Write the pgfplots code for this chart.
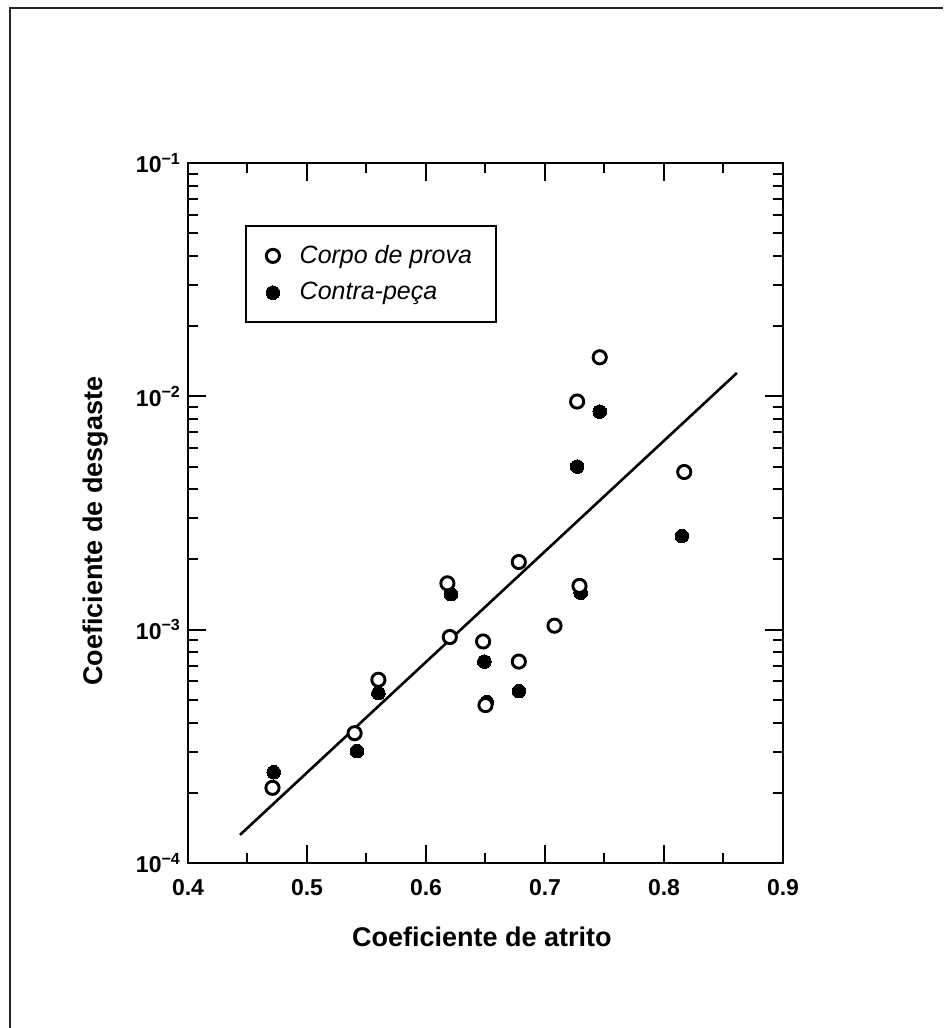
\documentclass[border=0pt]{standalone}
\usepackage{fontspec}
\setmainfont{Liberation Sans}
\usepackage{pgfplots}
\pgfplotsset{compat=1.18}

\begin{document}
\begin{tikzpicture}
\path[use as bounding box, fill=white] (0,0) rectangle (471.5pt,514pt);
% outer frame (top and left only)
\draw[line width=1pt, black!85] (5pt,0) -- (5pt,510pt) -- (471.5pt,510pt);
\begin{axis}[
  at={(94pt,82.5pt)}, anchor=south west,
  scale only axis,
  width=297.5pt, height=350pt,
  ymode=log,
  xmin=0.4, xmax=0.9,
  ymin=1e-4, ymax=1e-1,
  xtick={0.4,0.5,0.6,0.7,0.8,0.9},
  xticklabels={0.4,0.5,0.6,0.7,0.8,0.9},
  minor xtick={0.45,0.55,0.65,0.75,0.85},
  ytick={1e-4,1e-3,1e-2,1e-1},
  yticklabels={10\textsuperscript{−4},10\textsuperscript{−3},10\textsuperscript{−2},10\textsuperscript{−1}},
  minor ytick={2e-4,3e-4,4e-4,5e-4,6e-4,7e-4,8e-4,9e-4,
               2e-3,3e-3,4e-3,5e-3,6e-3,7e-3,8e-3,9e-3,
               2e-2,3e-2,4e-2,5e-2,6e-2,7e-2,8e-2,9e-2},
  tick align=inside,
  major tick length=9pt,
  minor tick length=5pt,
  axis line style={line width=1pt},
  every tick/.style={line width=1pt, black},
  ticklabel style={font=\bfseries\fontsize{11.5}{13}\selectfont},
  xticklabel style={yshift=-4.5pt},
  xlabel={Coeficiente de atrito},
  ylabel={Coeficiente de desgaste},
  label style={font=\bfseries\fontsize{13.5}{16}\selectfont},
  xlabel style={at={(axis description cs:0.494,-0.106)}, anchor=center},
  ylabel style={at={(axis description cs:-0.155,0.474)}, anchor=center},
  reverse legend,
  legend style={
    at={(axis description cs:0.096,0.911)}, anchor=north west,
    draw=black, line width=1pt,
    font=\itshape\fontsize{12.5}{15}\selectfont,
    inner xsep=10pt, inner ysep=7.5pt, row sep=4pt,
    cells={anchor=west},
    /tikz/every odd column/.append style={column sep=8pt},
  },
  legend image code/.code={\draw[#1] plot coordinates {(0.3cm,0cm)};},
]
% fitted line
\addplot[line width=1.3pt, black, forget plot] coordinates {
  (0.4437,1.32e-4) (0.8613,1.26e-2)
};
% Contra-peca (filled)
\addplot[only marks, mark=*, mark size=3.4pt, black, mark options={line width=0pt}] coordinates {
  (0.472,2.45e-4)
  (0.542,3.02e-4)
  (0.560,5.35e-4)
  (0.621,1.42e-3)
  (0.649,7.3e-4)
  (0.651,4.9e-4)
  (0.678,5.45e-4)
  (0.727,5.0e-3)
  (0.730,1.44e-3)
  (0.746,8.6e-3)
  (0.815,2.52e-3)
};
\addlegendentry{Contra-peça}
% Corpo de prova (open)
\addplot[only marks, mark=*, mark size=3.3pt, black, mark options={fill=white, line width=1.45pt}] coordinates {
  (0.471,2.10e-4)
  (0.540,3.6e-4)
  (0.560,6.1e-4)
  (0.618,1.58e-3)
  (0.620,9.3e-4)
  (0.648,8.9e-4)
  (0.650,4.75e-4)
  (0.678,1.95e-3)
  (0.678,7.3e-4)
  (0.708,1.04e-3)
  (0.729,1.54e-3)
  (0.727,9.5e-3)
  (0.746,1.47e-2)
  (0.817,4.74e-3)
};
\addlegendentry{Corpo de prova}
\end{axis}
\end{tikzpicture}
\end{document}
